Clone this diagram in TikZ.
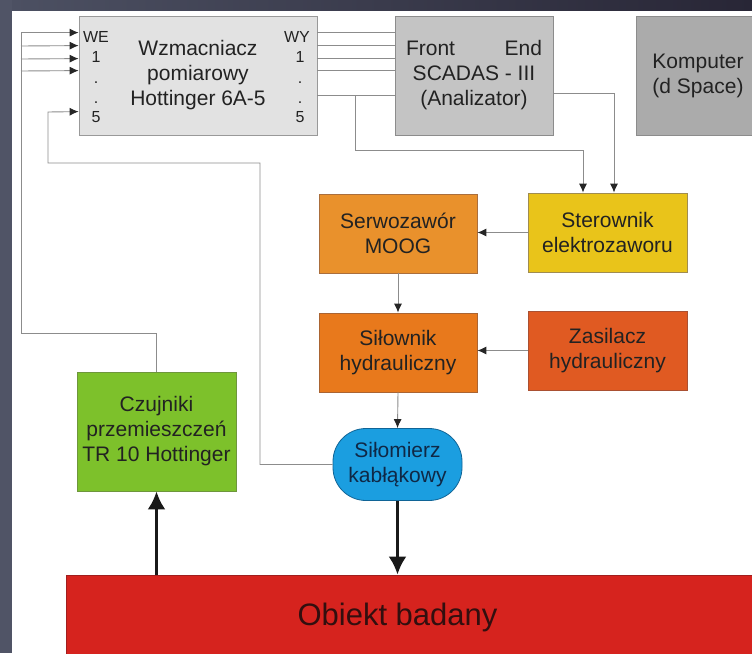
\documentclass[tikz,border=0pt]{standalone}
\usepackage{fontspec}
\setmainfont{Liberation Sans}
\usetikzlibrary{arrows.meta}
\definecolor{txt}{HTML}{222222}
\definecolor{ln}{HTML}{8C8C8C}
\definecolor{frameL}{RGB}{80,84,102}
\definecolor{frameA}{RGB}{76,80,98}
\definecolor{frameB}{RGB}{40,38,54}
\definecolor{wzF}{RGB}{226,226,226}
\definecolor{feF}{RGB}{196,196,196}
\definecolor{kpF}{RGB}{171,171,171}
\definecolor{stF}{RGB}{233,196,26}
\definecolor{stD}{RGB}{160,140,80}
\definecolor{szF}{RGB}{233,145,44}
\definecolor{szD}{RGB}{170,110,60}
\definecolor{slF}{RGB}{232,121,28}
\definecolor{slD}{RGB}{170,100,50}
\definecolor{zsF}{RGB}{224,90,34}
\definecolor{zsD}{RGB}{170,80,50}
\definecolor{smF}{RGB}{27,158,224}
\definecolor{smD}{RGB}{16,100,150}
\definecolor{smT}{RGB}{15,40,70}
\definecolor{czF}{RGB}{125,193,43}
\definecolor{czD}{RGB}{110,150,60}
\definecolor{obF}{RGB}{214,35,30}
\definecolor{obD}{RGB}{160,30,30}
\definecolor{obT}{RGB}{50,15,15}
\tikzset{
  box/.style={draw=#1, line width=0.8pt, rectangle, inner sep=0pt, align=center, text=txt,
    font=\fontsize{21}{25}\selectfont},
  lbl/.style={inner sep=0pt, text=txt, font=\fontsize{16}{18}\selectfont, anchor=base},
  wire/.style={draw=ln, line width=0.9pt},
  arr/.style={wire, -{Latex[length=9pt,width=8pt,color=black!85]}},
  thick arr/.style={draw=black!90, line width=3.2pt, -{Latex[length=18pt,width=18pt]}},
}
\begin{document}
\begin{tikzpicture}[x=1pt,y=-1pt]
\clip (0,0) rectangle (752,653);
% background frame
\fill[white] (0,0) rectangle (752,653);
\fill[frameL] (0,0) rectangle (12,653);
\shade[left color=frameA, right color=frameB] (12,0) rectangle (752,10);

% boxes
\node[box=black!40, fill=wzF, minimum width=238pt, minimum height=119pt] (wz) at (198,75.5)
  {Wzmacniacz\\pomiarowy\\Hottinger 6A-5};
\node[box=black!45, fill=feF, minimum width=158pt, minimum height=119pt] (fe) at (474,75.5)
  {\makebox[136pt]{Front\hfill End}\\SCADAS - III\\(Analizator)};
\node[box=black!45, fill=kpF, minimum width=124pt, minimum height=119pt] (kp) at (698,75.5)
  {Komputer\\(d Space)};
\node[box=stD, fill=stF, minimum width=159pt, minimum height=79pt] (st) at (607.5,232.5)
  {Sterownik\\elektrozaworu};
\node[box=szD, fill=szF, minimum width=158pt, minimum height=79pt] (sz) at (398,233.5)
  {Serwozawór\\MOOG};
\node[box=slD, fill=slF, minimum width=158pt, minimum height=79pt] (sl) at (398,352.5)
  {Siłownik\\hydrauliczny};
\node[box=zsD, fill=zsF, minimum width=159pt, minimum height=79pt] (zs) at (607.5,350.5)
  {Zasilacz\\hydrauliczny};
\node[box=smD, fill=smF, rounded corners=33pt, minimum width=129pt, minimum height=72pt, text=smT] (sm) at (397.5,464.5)
  {Siłomierz\\kabłąkowy};
\node[box=czD, fill=czF, minimum width=159pt, minimum height=119pt] (cz) at (156.5,431.5)
  {Czujniki\\przemieszczeń\\TR 10 Hottinger};
\node[box=obD, fill=obF, minimum width=700pt, minimum height=100pt] (ob) at (416,625) {};
\node[inner sep=0pt, text=obT, font=\fontsize{31}{35}\selectfont] (obl) at (397.5,617) {Obiekt badany};

% channel labels
\node[lbl] (we) at (96,42) {WE};
\node[lbl] (we1) at (96,62) {1};
\node[lbl] (we2) at (96,83) {.};
\node[lbl] (we3) at (96,103) {.};
\node[lbl] (we5) at (96,122) {5};
\node[lbl] (wy) at (297,42) {WY};
\node[lbl] (wy1) at (300,62) {1};
\node[lbl] (wy2) at (300,83) {.};
\node[lbl] (wy3) at (300,103) {.};
\node[lbl] (wy5) at (300,122) {5};

% coordinates for bends
\coordinate (busL) at (21,333);
\coordinate (b2) at (21,46);
\coordinate (b3) at (21,59);
\coordinate (b4) at (21,71);
\coordinate (k1) at (355,96);
\coordinate (k2) at (355,150);
\coordinate (k3) at (260,163);
\coordinate (k4) at (48,112);

% sensor bus to inputs
\draw[arr] (cz.north) |- (busL) |- ([yshift=-17pt]wz.north west);
\draw[arr] (b2) -- ([yshift=-30pt]wz.north west);
\draw[arr] (b3) -- ([yshift=-43pt]wz.north west);
\draw[arr] (b4) -- ([yshift=-55pt]wz.north west);

% outputs to front end
\draw[wire] ([yshift=-17pt]wz.north east) -- ([yshift=-17pt]fe.north west);
\draw[wire] ([yshift=-30pt]wz.north east) -- ([yshift=-30pt]fe.north west);
\draw[wire] ([yshift=-43pt]wz.north east) -- ([yshift=-43pt]fe.north west);
\draw[wire] ([yshift=-55pt]wz.north east) -- ([yshift=-55pt]fe.north west);
\draw[wire] ([yshift=-80pt]wz.north east) -- ([yshift=-80pt]fe.north west);
\draw[arr] (k1) -- (k2) -| ([xshift=-24.5pt]st.north);
\draw[arr] ([yshift=-78pt]fe.north east) -| ([xshift=6.5pt]st.north);

% control chain
\draw[arr] (st.west) -- (st.west -| sz.east);
\draw[arr] (sz.south) -- (sl.north);
\draw[arr] (zs.west) -- (zs.west -| sl.east);
\draw[arr] (sl.south) -- (sm.north);

% force sensor back to input 5
\draw[arr] (sm.west) -| (k3) -| (k4) -- ([yshift=-96pt]wz.north west);

% thick arrows
\draw[thick arr] (sm.south) -- (sm.south |- ob.north);
\draw[thick arr] (ob.north -| cz.south) -- (cz.south);
\end{tikzpicture}
\end{document}
